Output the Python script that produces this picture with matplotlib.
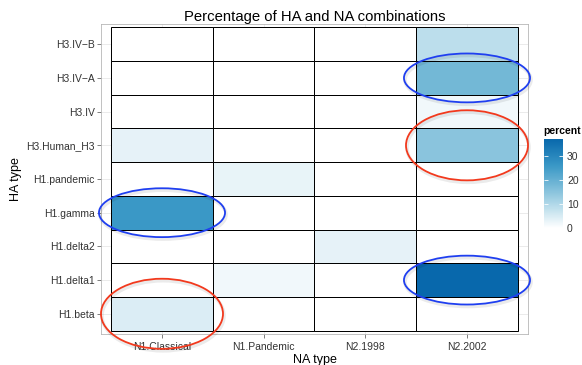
import numpy as np
import matplotlib
matplotlib.use("Agg")
import matplotlib.pyplot as plt
from matplotlib.colors import LinearSegmentedColormap, Normalize
from matplotlib.patches import Rectangle, Ellipse
from matplotlib.cm import ScalarMappable

plt.rcParams["font.family"] = ["Liberation Sans", "DejaVu Sans"]

# Categories (HA listed bottom to top)
ha_types = ["H1.beta", "H1.delta1", "H1.delta2", "H1.gamma", "H1.pandemic",
            "H3.Human_H3", "H3.IV", "H3.IV\u2212A", "H3.IV\u2212B"]
na_types = ["N1.Classical", "N1.Pandemic", "N2.1998", "N2.2002"]

# Percent of isolates for each NA type, one value per HA type (same order)
pct_n1_classical = [4.5, 0, 0, 26.0, 0, 3.2, 0, 0, 0]
pct_n1_pandemic = [0, 1.8, 0, 0, 3.0, 0, 0, 0, 0]
pct_n2_1998 = [0, 0, 3.3, 0, 0, 0, 0, 0, 0]
pct_n2_2002 = [0, 37.0, 0, 0, 0, 15.0, 1.8, 18.0, 8.5]

legend_ticks = [0, 10, 20, 30]

# Highlighted cells: (NA, HA, colour, kind)
highlights = [
    ("N2.2002", "H3.IV\u2212A", "#1f3ff0", "narrow"),
    ("N2.2002", "H3.Human_H3", "#f2391d", "tall"),
    ("N1.Classical", "H1.gamma", "#1f3ff0", "narrow"),
    ("N2.2002", "H1.delta1", "#1f3ff0", "narrow"),
    ("N1.Classical", "H1.beta", "#f2391d", "tall"),
]

columns = [pct_n1_classical, pct_n1_pandemic, pct_n2_1998, pct_n2_2002]

# white -> sky blue -> deep blue fill scale
cmap = LinearSegmentedColormap.from_list(
    "percent_blues",
    [(0.0, "#ffffff"), (0.2, "#c4e2ee"), (0.45, "#7dbdd9"),
     (0.7, "#3a98c6"), (1.0, "#0868ac")])

all_vals = np.array(columns, float)
norm = Normalize(vmin=all_vals.min(), vmax=all_vals.max())

# --- figure ---
W, H = 582, 365
fig = plt.figure(figsize=(W / 72, H / 72), dpi=72)
ax = fig.add_axes([101 / W, 1 - 334 / H, 427 / W, 310 / H])

nx, ny = len(na_types), len(ha_types)
ax.set_xlim(-0.6, nx - 0.4)
ax.set_ylim(-0.6, ny - 0.4)

ax.set_facecolor("white")
for i in range(nx):
    ax.axvline(i, color="#dedede", lw=0.6, zorder=0)
for j in range(ny):
    ax.axhline(j, color="#dedede", lw=0.6, zorder=0)

for i, col in enumerate(columns):
    for j, v in enumerate(col):
        ax.add_patch(Rectangle((i - 0.5, j - 0.5), 1, 1,
                               facecolor=cmap(norm(v)), edgecolor="black",
                               lw=1.0, zorder=2))

for spine in ax.spines.values():
    spine.set_color("#b3b3b3")
    spine.set_linewidth(0.8)

ax.set_xticks(range(nx))
ax.set_xticklabels(na_types)
ax.set_yticks(range(ny))
ax.set_yticklabels(ha_types)
ax.tick_params(axis="both", length=4, width=0.7, color="#4d4d4d",
               labelsize=10.4, labelcolor="#333333", pad=2.5)
ax.tick_params(axis="x", pad=4.5)

ax.set_xlabel("NA type", fontsize=12.5, labelpad=1)
ax.set_ylabel("HA type", fontsize=12.5, labelpad=4)
ax.set_title("Percentage of HA and NA combinations", fontsize=14.9, pad=3)

# --- highlight ellipses around selected cells ---
for na, ha, color, kind in highlights:
    cx = na_types.index(na)
    cy = ha_types.index(ha)
    if kind == "narrow":
        w, h = 1.24, 1.45
    else:
        w, h = 1.2, 2.08
    shadow = Ellipse((cx + 0.01, cy - 0.06), w, h, fill=False,
                     edgecolor="#000000", alpha=0.08, lw=3.5,
                     clip_on=False, zorder=4)
    ax.add_patch(shadow)
    ax.add_patch(Ellipse((cx, cy), w, h, fill=False, edgecolor=color,
                         lw=1.8, clip_on=False, zorder=5))

# --- colour bar legend ---
cax = fig.add_axes([544 / W, 1 - 228 / H, 19 / W, 89 / H])
cb = fig.colorbar(ScalarMappable(norm=norm, cmap=cmap), cax=cax)
cb.outline.set_visible(False)
cb.set_ticks(legend_ticks)
cax.yaxis.set_ticks_position("both")
cax.tick_params(direction="in", length=4, width=0.8, color="white",
                labelsize=10.4, labelcolor="#333333", pad=4,
                labelright=True, labelleft=False)
fig.text(543 / W, 1 - 131 / H, "percent", fontsize=10.4, fontweight="bold",
         ha="left", va="center")

fig.savefig("out.png", dpi=72)
